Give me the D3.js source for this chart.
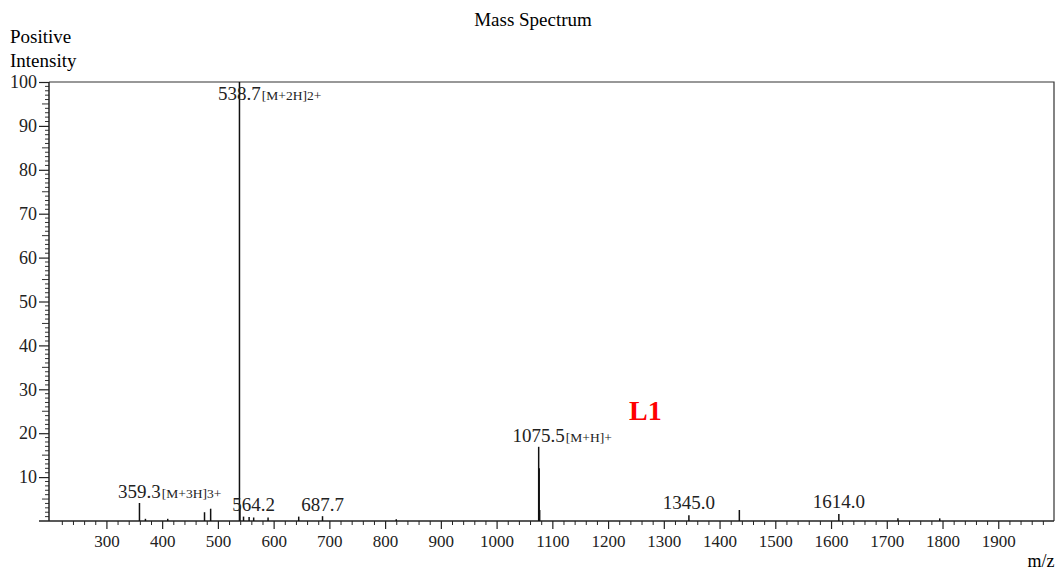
<!DOCTYPE html>
<html><head><meta charset="utf-8">
<script src="https://cdn.jsdelivr.net/npm/d3@7"></script>
<style>body{margin:0;background:#fff;} svg{display:block;font-family:"Liberation Serif","DejaVu Serif",serif;}</style>
</head><body>
<svg id="c" width="1057" height="572"></svg>
<script>
// ---- data ----
const peakMz        = [359.3, 370, 410, 476, 487, 538.7, 539.5, 546, 556, 564.2, 590, 645, 687.7, 820, 1075.5, 1076.4, 1077.3, 1345.0, 1435.5, 1614.0, 1720, 1795];
const peakIntensity = [4.1,   0.5, 0.5, 2.0, 2.8, 100,   3.0,   1.0, 0.9, 0.8,   0.8, 1.0, 1.1,   0.4, 16.9,   12.0,   2.5,    1.3,    2.5,    1.6,    0.6,  0.6];
const labelMz    = [538.7, 359.3, 564.2, 687.7, 1075.5, 1345.0, 1614.0];
const labelText  = ["538.7", "359.3", "564.2", "687.7", "1075.5", "1345.0", "1614.0"];
const labelNote  = ["[M+2H]2+", "[M+3H]3+", "", "", "[M+H]+", "", ""];
const labelLevel = [100, 4.1, 1.1, 1.1, 16.9, 1.6, 1.8];
const xTickValues = [300, 400, 500, 600, 700, 800, 900, 1000, 1100, 1200, 1300, 1400, 1500, 1600, 1700, 1800, 1900];
const yTickValues = [10, 20, 30, 40, 50, 60, 70, 80, 90, 100];

// ---- layout ----
const svg = d3.select("#c");
const L = 49, R = 1054, T = 82, B = 521;
const x = d3.scaleLinear().domain([197, 2000]).range([L, R]);
const y = d3.scaleLinear().domain([0, 100]).range([B, T]);

// title and axis titles
svg.append("text").attr("x", 533).attr("y", 26).attr("text-anchor", "middle").attr("font-size", 19).text("Mass Spectrum");
svg.append("text").attr("x", 10).attr("y", 43).attr("font-size", 19).text("Positive");
svg.append("text").attr("x", 10).attr("y", 67).attr("font-size", 19).text("Intensity");
svg.append("text").attr("x", 1041).attr("y", 567).attr("text-anchor", "middle").attr("font-size", 18).text("m/z");

// frame (top/right)
svg.append("path").attr("d", `M${L},${T}H${R}V${B}`).attr("fill", "none").attr("stroke", "#333").attr("stroke-width", 1.2);

// x axis
const xMinor = d3.range(200, 2000, 20).filter(v => v % 100 !== 0);
const xAxisMajor = d3.axisBottom(x).tickValues(xTickValues).tickSize(8).tickPadding(6).tickFormat(d3.format("d"));
const gx = svg.append("g").attr("transform", `translate(0,${B})`).call(xAxisMajor);
gx.select(".domain").remove();
gx.selectAll("text").attr("font-size", 17).attr("font-family", "Liberation Serif").attr("fill", "#222");
gx.selectAll("line").attr("stroke", "#222").attr("stroke-width", 1.2);
const gxm = svg.append("g").attr("transform", `translate(0,${B})`).call(d3.axisBottom(x).tickValues(xMinor).tickSize(4).tickFormat(""));
gxm.select(".domain").remove();
gxm.selectAll("line").attr("stroke", "#222");
svg.append("line").attr("x1", 39).attr("x2", R).attr("y1", B).attr("y2", B).attr("stroke", "#222").attr("stroke-width", 1.5);

// y axis
const gy = svg.append("g").attr("transform", `translate(${L},0)`).call(d3.axisLeft(y).tickValues(yTickValues).tickSize(10).tickPadding(2).tickFormat(d3.format("d")));
gy.select(".domain").remove();
gy.selectAll("text").attr("font-size", 18).attr("font-family", "Liberation Serif").attr("fill", "#222");
gy.selectAll("line").attr("stroke", "#222").attr("stroke-width", 1.2);
const yMinor = d3.range(1, 100).filter(v => v % 10 !== 0);
svg.append("g").attr("transform", `translate(${L},0)`).selectAll("line").data(yMinor).join("line")
  .attr("x1", d => d % 5 === 0 ? -7 : -4).attr("x2", 0)
  .attr("y1", d => y(d)).attr("y2", d => y(d)).attr("stroke", "#333").attr("stroke-width", 1);
svg.append("line").attr("x1", L).attr("x2", L).attr("y1", T).attr("y2", B).attr("stroke", "#222").attr("stroke-width", 1.5);

// peaks
const peaks = peakMz.map((m, i) => ({m, v: peakIntensity[i]}));
svg.append("g").selectAll("line").data(peaks).join("line")
  .attr("x1", d => x(d.m)).attr("x2", d => x(d.m))
  .attr("y1", y(0)).attr("y2", d => y(d.v))
  .attr("stroke", "#111").attr("stroke-width", 1.5);

// peak labels
const labels = labelMz.map((m, i) => ({m, t: labelText[i], n: labelNote[i], v: labelLevel[i]}));
const lg = svg.append("g").selectAll("g").data(labels).join("g")
  .attr("transform", d => `translate(${x(d.m)},${d.v >= 100 ? y(d.v) + 18 : y(d.v) - 5})`);
const nums = lg.append("text").attr("text-anchor", "middle").attr("font-size", 19).attr("fill", "#222").text(d => d.t);
lg.each(function(d) {
  const w = d3.select(this).select("text").node().getComputedTextLength();
  d3.select(this).append("text").attr("x", w / 2 + 1).attr("font-size", 13.5).attr("fill", "#222").text(d.n);
});

// L1 tag
svg.append("text").attr("x", 629).attr("y", 420).attr("font-size", 28).attr("font-weight", "bold").attr("fill", "#ff0000").text("L1");
</script>
</body></html>
